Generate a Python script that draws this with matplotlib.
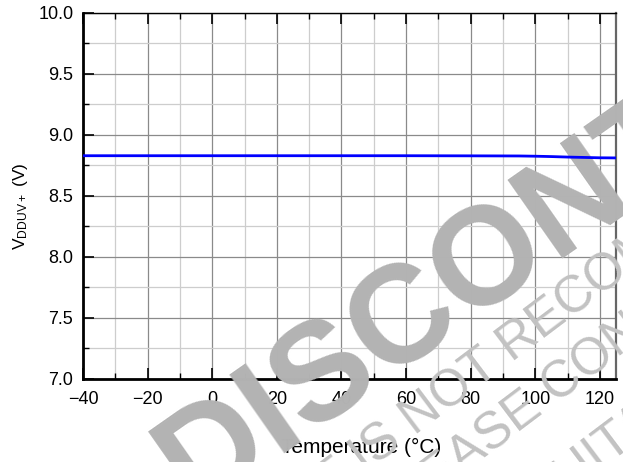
import matplotlib
matplotlib.use('Agg')
import matplotlib.pyplot as plt
from matplotlib.ticker import MultipleLocator

plt.rcParams['font.family'] = ['Liberation Sans', 'DejaVu Sans']
plt.rcParams['mathtext.default'] = 'regular'

# supply voltage vs temperature
temp = [-40, -20, 0, 20, 40, 60, 80, 95, 100, 105, 110, 115, 120, 125]
vddu = [8.830, 8.830, 8.830, 8.830, 8.830, 8.830, 8.829, 8.828, 8.826,
        8.823, 8.819, 8.816, 8.813, 8.812]

xticks = [-40, -20, 0, 20, 40, 60, 80, 100, 120]
yticks = [7.0, 7.5, 8.0, 8.5, 9.0, 9.5, 10.0]

fig = plt.figure(figsize=(6.23, 4.62), dpi=100)
ax = fig.add_axes([0.1332, 0.1797, 0.8556, 0.7922])

ax.plot(temp, vddu, color='#0000ff', linewidth=2, zorder=4)

ax.set_xlim(-40, 125)
ax.set_ylim(7.0, 10.0)
ax.set_xticks(xticks)
ax.set_yticks(yticks)
ax.set_yticklabels(['%.1f' % v for v in yticks])
ax.xaxis.set_minor_locator(MultipleLocator(10))
ax.yaxis.set_minor_locator(MultipleLocator(0.25))

ax.grid(True, which='major', color='#8a8a8a', linewidth=0.9, zorder=1)
ax.grid(True, which='minor', color='#cdcdcd', linewidth=0.9, zorder=1)
ax.set_axisbelow(True)

ax.tick_params(which='major', direction='in', length=8, width=1.2,
               labelsize=13, pad=9, top=True, right=False)
ax.tick_params(axis='y', which='major', pad=7)
ax.tick_params(which='minor', direction='in', length=4, width=1.0,
               top=True, right=False)

for s in ['left', 'bottom']:
    ax.spines[s].set_linewidth(2)
ax.spines['top'].set_linewidth(1)
ax.spines['right'].set_linewidth(1.6)
ax.spines['right'].set_color('#666666')

ax.set_xlabel('Temperature (°C)', fontsize=15)
ax.xaxis.set_label_coords(0.522, -0.160)
ax.set_ylabel('V$_{DDUV+}$ (V)', fontsize=12.5)
ax.yaxis.set_label_coords(-0.100, 0.473)

# watermark
wm = '#b3b3b3'
ax.text(0.974, 0.615, 'DISCONTINUED', transform=fig.transFigure,
        fontsize=100, fontweight='bold', color=wm, rotation=35,
        rotation_mode='anchor', ha='center', va='center', zorder=3,
        clip_on=False)
notes = ['THIS PRODUCT IS NOT RECOMMENDED FOR NEW DESIGNS',
         'PLEASE CONTACT OUR TECHNICAL SUPPORT CENTER',
         'FOR A SUITABLE REPLACEMENT']
starts = [(0.075, -0.545), (0.618, -0.156), (0.658, -0.330)]
for txt, (x0, y0) in zip(notes, starts):
    ax.text(x0, y0, txt, transform=fig.transFigure, fontsize=37,
            color='#c2c2c2', rotation=37, rotation_mode='anchor',
            ha='left', va='baseline', zorder=3, clip_on=False)

fig.savefig('out.png', dpi=100)
